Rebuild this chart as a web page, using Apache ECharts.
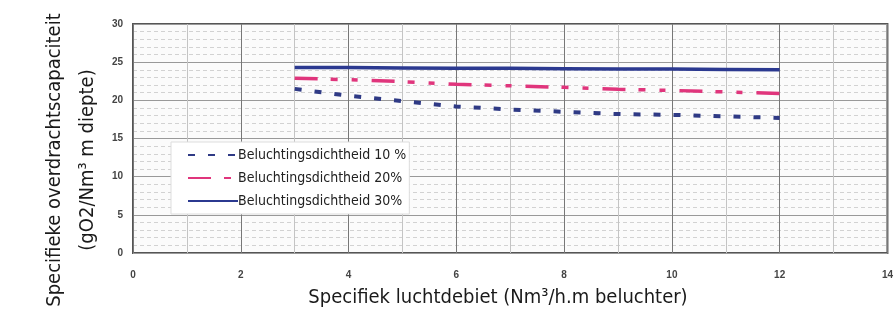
<!DOCTYPE html>
<html>
<head>
<meta charset="utf-8">
<script src="https://cdn.jsdelivr.net/npm/echarts@6/dist/echarts.min.js"></script>
<style>
  html, body { margin: 0; padding: 0; background: #fff; }
  #main { width: 896px; height: 312px; }
</style>
</head>
<body>
<div id="main"></div>
<script type="text/javascript">
    // data
    var xValues = [3, 4, 5, 6, 7, 8, 9, 10, 11, 12];
    var dicht10 = [21.5, 20.6, 19.9, 19.2, 18.8, 18.5, 18.2, 18.1, 17.9, 17.7];
    var dicht20 = [22.9, 22.7, 22.45, 22.1, 21.9, 21.7, 21.45, 21.3, 21.1, 20.9];
    var dicht30 = [24.3, 24.3, 24.25, 24.2, 24.2, 24.15, 24.1, 24.1, 24.05, 24.0];
    var seriesNames = ['Beluchtingsdichtheid 10 %', 'Beluchtingsdichtheid 20%', 'Beluchtingsdichtheid 30%'];
    var yTicks = [0, 5, 10, 15, 20, 25, 30];
    var xTicks = [0, 2, 4, 6, 8, 10, 12, 14];

    var narrow = '"DejaVu Sans Condensed", "Liberation Sans Narrow", sans-serif';

    function pairs(ys) {
        return xValues.map(function (x, i) { return [x, ys[i]]; });
    }

    var myChart = echarts.init(document.getElementById('main'));

    var option = {
        animation: false,
        backgroundColor: '#fff',
        grid: {
            left: 133, right: 7, top: 24, bottom: 59,
            show: true,
            backgroundColor: '#fbfbfb',
            borderColor: '#555',
            borderWidth: 2
        },
        legend: {
            orient: 'vertical',
            left: 171,
            top: 142,
            padding: [6, 3, 6, 16],
            itemGap: 9,
            itemWidth: 50,
            itemHeight: 14,
            backgroundColor: '#fff',
            borderColor: '#ddd',
            borderWidth: 1,
            itemStyle: { opacity: 0 },
            textStyle: { fontFamily: narrow, fontSize: 14, color: '#222', padding: [0, 0, 0, -5] },
            data: seriesNames
        },
        xAxis: {
            type: 'value',
            min: xTicks[0],
            max: xTicks[xTicks.length - 1],
            interval: 2,
            axisLine: { show: false },
            axisTick: { show: false },
            axisLabel: {
                margin: 17,
                fontFamily: '"Liberation Sans", Arial, sans-serif',
                fontWeight: 'bold',
                fontSize: 10,
                color: '#444',
                showMaxLabel: true
            },
            splitLine: { show: true, lineStyle: { color: '#777', width: 1 } },
            minorTick: { show: false, splitNumber: 2 },
            minorSplitLine: { show: true, lineStyle: { color: '#c4c4c4', width: 1 } }
        },
        yAxis: {
            type: 'value',
            min: yTicks[0],
            max: yTicks[yTicks.length - 1],
            interval: 5,
            axisLine: { show: false },
            axisTick: { show: false },
            axisLabel: {
                margin: 10,
                fontFamily: '"Liberation Sans", Arial, sans-serif',
                fontWeight: 'bold',
                fontSize: 10,
                color: '#444'
            },
            splitLine: { show: true, lineStyle: { color: '#999', width: 1 } },
            minorTick: { show: false, splitNumber: 5 },
            minorSplitLine: { show: true, lineStyle: { color: '#d2d2d2', width: 1, type: [4, 3] } }
        },
        graphic: [
            {
                type: 'text',
                x: 55, y: 160,
                rotation: Math.PI / 2,
                style: {
                    text: 'Specifieke overdrachtscapaciteit',
                    font: '20px ' + narrow,
                    fill: '#1a1a1a',
                    textAlign: 'center',
                    textVerticalAlign: 'middle'
                }
            },
            {
                type: 'text',
                x: 88, y: 160,
                rotation: Math.PI / 2,
                style: {
                    text: '(gO2/Nm\u00b3 m diepte)',
                    font: '20px ' + narrow,
                    fill: '#1a1a1a',
                    textAlign: 'center',
                    textVerticalAlign: 'middle'
                }
            },
            {
                type: 'text',
                x: 498, y: 298,
                style: {
                    text: 'Specifiek luchtdebiet (Nm\u00b3/h.m beluchter)',
                    font: '20px ' + narrow,
                    fill: '#1a1a1a',
                    textAlign: 'center',
                    textVerticalAlign: 'middle'
                }
            }
        ],
        series: [
            {
                name: seriesNames[0],
                type: 'line',
                symbol: 'none',
                data: pairs(dicht10),
                itemStyle: { color: '#2f3a85' },
                lineStyle: { color: '#2f3a85', width: 4, type: [7, 13] }
            },
            {
                name: seriesNames[1],
                type: 'line',
                symbol: 'none',
                data: pairs(dicht20),
                itemStyle: { color: '#e0357c' },
                lineStyle: { color: '#e0357c', width: 3.5, type: [23, 13, 7, 14, 6, 14] }
            },
            {
                name: seriesNames[2],
                type: 'line',
                symbol: 'none',
                data: pairs(dicht30),
                itemStyle: { color: '#2b3990' },
                lineStyle: { color: '#2b3990', width: 3.5 }
            }
        ]
    };

    myChart.setOption(option);
</script>
</body>
</html>
